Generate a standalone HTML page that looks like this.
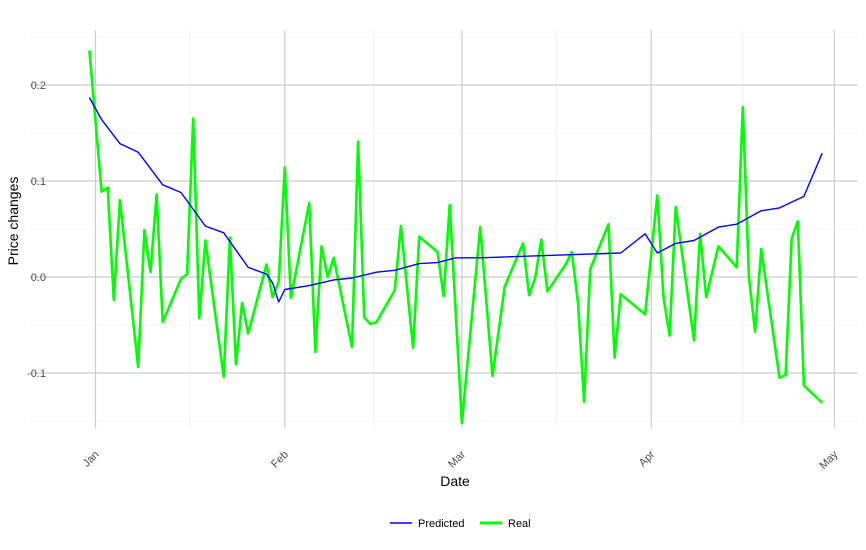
<!DOCTYPE html>
<html><head><meta charset="utf-8"><style>
html,body{margin:0;padding:0;background:#fff;}
svg{display:block;font-family:"Liberation Sans",sans-serif;}
</style></head><body>
<svg id="chart" width="866" height="550" viewBox="0 0 866 550" xmlns="http://www.w3.org/2000/svg">
<g id="grid"></g>
<g id="series"></g>
<g id="axes"></g>
<text x="455" y="486" font-size="14" text-anchor="middle" fill="#000">Date</text>
<text transform="translate(18,221) rotate(-90)" font-size="14" text-anchor="middle" fill="#000">Price changes</text>
<g>
<g>
<line x1="390" y1="523" x2="412" y2="523" stroke="#0000ff" stroke-width="1.5"/>
<text x="418" y="527" font-size="11" fill="#000">Predicted</text></g>
<g>
<line x1="480" y1="523" x2="502" y2="523" stroke="#00ff00" stroke-width="3"/>
<text x="508" y="527" font-size="11" fill="#000">Real</text></g>
</g>
</svg>
<script>
// day offsets from Jan 1
const realDays = [-1,1,2,3,4,7,8,9,10,11,14,15,16,17,18,21,22,23,24,25,28,29,30,31,32,35,36,37,38,39,42,43,44,45,46,49,50,52,53,56,57,58,60,63,65,67,70,71,72,73,74,77,78,79,80,81,84,85,86,90,92,93,94,95,98,99,100,102,105,106,107,108,109,112,113,114,115,116,119];
const realValues = [0.236,0.089,0.093,-0.024,0.080,-0.094,0.049,0.005,0.086,-0.047,-0.002,0.003,0.165,-0.043,0.038,-0.104,0.041,-0.091,-0.027,-0.059,0.013,-0.021,-0.005,0.114,-0.022,0.077,-0.078,0.032,0.000,0.020,-0.073,0.141,-0.042,-0.049,-0.047,-0.014,0.053,-0.074,0.042,0.026,-0.020,0.075,-0.152,0.052,-0.103,-0.010,0.035,-0.019,-0.001,0.039,-0.015,0.013,0.026,-0.027,-0.130,0.008,0.055,-0.084,-0.018,-0.039,0.085,-0.021,-0.061,0.073,-0.066,0.045,-0.021,0.032,0.010,0.177,0.000,-0.057,0.029,-0.105,-0.102,0.040,0.058,-0.113,-0.131];
const predDays = [-1,1,4,7,11,14,18,21,25,28,29,30,31,35,39,42,46,49,53,56,59,63,86,90,92,95,98,102,105,109,112,116,119];
const predValues = [0.187,0.164,0.139,0.130,0.096,0.088,0.053,0.046,0.010,0.003,-0.006,-0.026,-0.013,-0.009,-0.003,-0.001,0.005,0.007,0.014,0.015,0.020,0.020,0.025,0.045,0.025,0.035,0.038,0.052,0.055,0.069,0.072,0.084,0.129];
const monthLabels = ["Jan","Feb","Mar","Apr","May"];
const monthDays = [0,31,60,91,121];
const minorDays = [15.5,45.5,75.5,106];
const yTicks = [-0.1,0,0.1,0.2];
const yMinor = [-0.15,-0.05,0.05,0.15,0.25];

const X0=30,X1=858,Y0=30,Y1=428;
function xs(d){return 95.5+d*6.107;}
function ys(v){return 277-v*960;}
const NS="http://www.w3.org/2000/svg";
function mk(t,a,p){const e=document.createElementNS(NS,t);for(const k in a)e.setAttribute(k,a[k]);p.appendChild(e);return e;}
const grid=document.getElementById('grid'),axes=document.getElementById('axes'),series=document.getElementById('series');
yMinor.forEach(v=>{const l=mk('line',{x1:X0,x2:X1,y1:ys(v),y2:ys(v),stroke:'#ebebeb','stroke-width':0.6},grid);

});
minorDays.forEach(d=>{const l=mk('line',{x1:xs(d),x2:xs(d),y1:Y0,y2:Y1,stroke:'#ebebeb','stroke-width':0.6},grid);

});
yTicks.forEach(v=>{const l=mk('line',{x1:X0,x2:X1,y1:ys(v),y2:ys(v),stroke:'#cccccc','stroke-width':1.2},grid);


const t=mk('text',{x:46,y:ys(v)+4,'font-size':11,'text-anchor':'end',fill:'#4d4d4d'},axes);
t.textContent=v===0?'0.0':v.toFixed(1);

});
monthDays.forEach((d,i)=>{const l=mk('line',{x1:xs(d),x2:xs(d),y1:Y0,y2:Y1,stroke:'#cccccc','stroke-width':1.2},grid);


const x=xs(d)+4,y=455;
const t=mk('text',{x:x,y:y,'font-size':11,'text-anchor':'end',fill:'#4d4d4d',transform:`rotate(-45 ${x} ${y})`},axes);
t.textContent=monthLabels[i];

});
function path(days,vals){return days.map((d,i)=>(i?'L':'M')+xs(d).toFixed(1)+','+ys(vals[i]).toFixed(1)).join('');}
const g=mk('path',{d:path(realDays,realValues),fill:'none',stroke:'#00ff00','stroke-width':2.6,'stroke-linejoin':'round'},series);


const b=mk('path',{d:path(predDays,predValues),fill:'none',stroke:'#0000ff','stroke-width':1.4,'stroke-linejoin':'round'},series);


</script>
</body></html>
